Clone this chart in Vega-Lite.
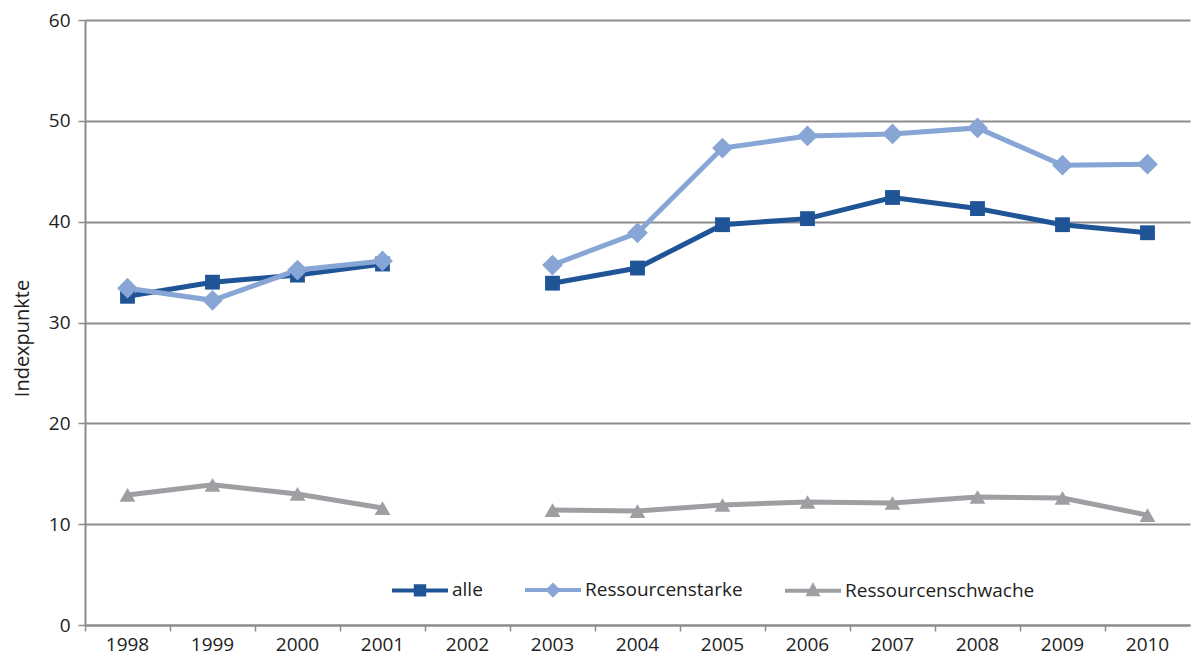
{
  "$schema": "https://vega.github.io/schema/vega-lite/v6.json",
  "width": 1105,
  "height": 605,
  "autosize": {"type": "none"},
  "padding": {"left": 85, "top": 20, "right": 8, "bottom": 36},
  "background": "white",
  "config": {
    "view": {"stroke": null},
    "font": "Open Sans",
    "axis": {"labelFont": "Open Sans", "titleFont": "Open Sans", "labelColor": "#222", "titleColor": "#222"}
  },
  "data": {
    "values": [
      {"year": "1998", "series": "alle", "value": 32.6},
      {"year": "1999", "series": "alle", "value": 34.0},
      {"year": "2000", "series": "alle", "value": 34.7},
      {"year": "2001", "series": "alle", "value": 35.8},
      {"year": "2002", "series": "alle", "value": null},
      {"year": "2003", "series": "alle", "value": 33.9},
      {"year": "2004", "series": "alle", "value": 35.4},
      {"year": "2005", "series": "alle", "value": 39.7},
      {"year": "2006", "series": "alle", "value": 40.3},
      {"year": "2007", "series": "alle", "value": 42.4},
      {"year": "2008", "series": "alle", "value": 41.3},
      {"year": "2009", "series": "alle", "value": 39.7},
      {"year": "2010", "series": "alle", "value": 38.9},
      {"year": "1998", "series": "Ressourcenstarke", "value": 33.4},
      {"year": "1999", "series": "Ressourcenstarke", "value": 32.2},
      {"year": "2000", "series": "Ressourcenstarke", "value": 35.2},
      {"year": "2001", "series": "Ressourcenstarke", "value": 36.1},
      {"year": "2002", "series": "Ressourcenstarke", "value": null},
      {"year": "2003", "series": "Ressourcenstarke", "value": 35.7},
      {"year": "2004", "series": "Ressourcenstarke", "value": 38.9},
      {"year": "2005", "series": "Ressourcenstarke", "value": 47.3},
      {"year": "2006", "series": "Ressourcenstarke", "value": 48.5},
      {"year": "2007", "series": "Ressourcenstarke", "value": 48.7},
      {"year": "2008", "series": "Ressourcenstarke", "value": 49.3},
      {"year": "2009", "series": "Ressourcenstarke", "value": 45.6},
      {"year": "2010", "series": "Ressourcenstarke", "value": 45.7},
      {"year": "1998", "series": "Ressourcenschwache", "value": 12.9},
      {"year": "1999", "series": "Ressourcenschwache", "value": 13.9},
      {"year": "2000", "series": "Ressourcenschwache", "value": 13.0},
      {"year": "2001", "series": "Ressourcenschwache", "value": 11.6},
      {"year": "2002", "series": "Ressourcenschwache", "value": null},
      {"year": "2003", "series": "Ressourcenschwache", "value": 11.4},
      {"year": "2004", "series": "Ressourcenschwache", "value": 11.3},
      {"year": "2005", "series": "Ressourcenschwache", "value": 11.9},
      {"year": "2006", "series": "Ressourcenschwache", "value": 12.2},
      {"year": "2007", "series": "Ressourcenschwache", "value": 12.1},
      {"year": "2008", "series": "Ressourcenschwache", "value": 12.7},
      {"year": "2009", "series": "Ressourcenschwache", "value": 12.6},
      {"year": "2010", "series": "Ressourcenschwache", "value": 10.9}
    ]
  },
  "encoding": {
    "x": {
      "field": "year", "type": "ordinal",
      "scale": {"type": "band", "paddingInner": 0, "paddingOuter": 0},
      "axis": {
        "title": null, "labelAngle": 0, "labelFontSize": 19, "labelPadding": 4,
        "domainColor": "#8c8c8c", "domainWidth": 2, "tickColor": "#8c8c8c", "tickWidth": 1.5,
        "tickSize": 6, "bandPosition": 0, "labelBound": false, "labelOverlap": false
      }
    },
    "y": {
      "field": "value", "type": "quantitative",
      "scale": {"domain": [0, 60], "nice": false},
      "axis": {
        "title": "Indexpunkte", "titleFontSize": 20, "titleFontWeight": "normal", "titlePadding": 16,
        "titleY": 318,
        "labelFontSize": 19, "labelPadding": 8, "values": [0, 10, 20, 30, 40, 50, 60],
        "grid": true, "gridColor": "#8c8c8c", "gridWidth": 2,
        "domainColor": "#8c8c8c", "domainWidth": 2, "tickColor": "#8c8c8c", "tickWidth": 1.5, "tickSize": 7
      }
    },
    "color": {
      "field": "series", "type": "nominal",
      "scale": {"domain": ["alle", "Ressourcenstarke", "Ressourcenschwache"], "range": ["#1f5596", "#87a6d5", "#9d9fa2"]},
      "legend": {
        "title": null, "orient": "none", "direction": "horizontal", "legendX": 305, "legendY": 540,
        "labelFontSize": 19, "labelFont": "Open Sans", "labelColor": "#222", "columnPadding": 34, "labelOffset": 2,
        "labelLimit": 400,
        "symbolSize": 3136, "symbolStrokeWidth": 4, "symbolOpacity": 1,
        "encode": {
          "symbols": {
            "update": {
              "shape": {"signal": "datum.value === 'alle' ? 'M-1,0H1M-0.15,-0.15H0.15V0.15H-0.15Z' : datum.value === 'Ressourcenstarke' ? 'M-1,0H1M0,-0.17L0.17,0L0,0.17L-0.17,0Z' : 'M-1,0H1M0,-0.16L0.15,0.12L-0.15,0.12Z'"},
              "strokeWidth": {"value": 4},
              "opacity": {"value": 1}
            }
          }
        }
      }
    }
  },
  "layer": [
    {
      "mark": {"type": "line", "strokeWidth": 5, "invalid": "break-paths-show-domains"},
      "encoding": {}
    },
    {
      "mark": {"type": "point", "filled": true, "opacity": 1},
      "encoding": {
        "shape": {
          "condition": [
            {"test": "datum.series === 'alle'", "value": "square"},
            {"test": "datum.series === 'Ressourcenstarke'", "value": "diamond"}
          ],
          "value": "triangle-up"
        },
        "size": {
          "condition": [
            {"test": "datum.series === 'alle'", "value": 220},
            {"test": "datum.series === 'Ressourcenstarke'", "value": 430}
          ],
          "value": 250
        }
      }
    }
  ]
}
